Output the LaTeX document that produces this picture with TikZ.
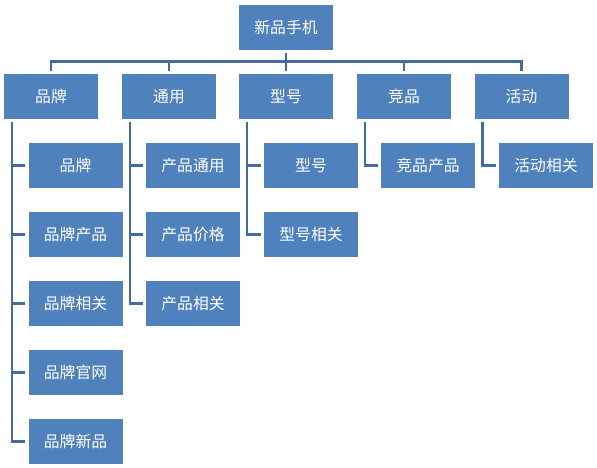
\documentclass[tikz,border=0pt]{standalone}
\usepackage{fontspec}
\newfontfamily\cjk{Noto Sans CJK SC}
\definecolor{boxblue}{HTML}{4F81BD}
\definecolor{lineblue}{RGB}{66,108,160}
\begin{document}
\begin{tikzpicture}[x=1pt,y=-1pt,
  box/.style={rectangle,fill=boxblue,draw=none,minimum width=94pt,minimum height=45pt,inner sep=0pt,text=white,font=\cjk\fontsize{15.8pt}{18pt}\selectfont},
  conn/.style={draw=lineblue,line width=2.6pt}]
\useasboundingbox (0,0) rectangle (597,468);
\node[box] (root) at (286,27.5) {新品手机};
\node[box] (a) at (51,96.5) {品牌};
\node[box] (b) at (169,96.5) {通用};
\node[box] (c) at (286,96.5) {型号};
\node[box] (d) at (404,96.5) {竞品};
\node[box] (e) at (521.5,96.5) {活动};
\coordinate (bar) at (286,61.5);
% children of a
\node[box] (a1) at (75.5,165.5) {品牌};
\node[box] (a2) at (75.5,234.5) {品牌产品};
\node[box] (a3) at (75.5,303.5) {品牌相关};
\node[box] (a4) at (75.5,372.5) {品牌官网};
\node[box] (a5) at (75.5,441.5) {品牌新品};
% children of b
\node[box] (b1) at (193,165.5) {产品通用};
\node[box] (b2) at (193,234.5) {产品价格};
\node[box] (b3) at (193,303.5) {产品相关};
% children of c
\node[box] (c1) at (311,165.5) {型号};
\node[box] (c2) at (311,234.5) {型号相关};
% children of d, e
\node[box] (d1) at (428,165.5) {竞品产品};
\node[box] (e1) at (546,165.5) {活动相关};
% top connectors
\draw[conn] ([yshift=3pt]a.north) |- (bar) -| ([yshift=3pt]e.north);
\draw[conn] ([yshift=-2.5pt]root.south) -- ([yshift=3pt]c.north);
\draw[conn] ([yshift=3pt]b.north) -- (b.north |- bar);
\draw[conn] ([yshift=3pt]d.north) -- (d.north |- bar);
% child connectors
\foreach \p/\c in {a/a1,a/a2,a/a3,a/a4,a/a5,b/b1,b/b2,b/b3,c/c1,c/c2,d/d1,e/e1}{
  \draw[conn] ([xshift=8pt,yshift=-3pt]\p.south west) |- ([xshift=-3pt]\c.west);
}
\end{tikzpicture}
\end{document}
